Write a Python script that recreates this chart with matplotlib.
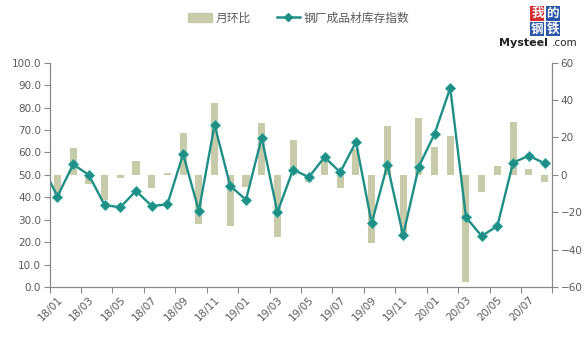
import numpy as np
import matplotlib.pyplot as plt
from matplotlib.lines import Line2D
from matplotlib.patches import Patch

plt.rcParams['font.family'] = ['DejaVu Sans', 'Noto Sans CJK SC']

# 月份 18/01 - 20/08
meses = [f'{a}/{m:02d}' for a in (18, 19, 20) for m in range(1, 13)][:32]

# 钢厂成品材库存指数 (eixo esquerdo); primeiro valor = 17/12, fica cortado
indice_anterior = 54.7
indice = [40.4, 54.7, 50.0, 36.6, 35.6, 42.9, 36.2, 36.9, 59.3, 34.0, 72.3, 45.1,
          38.9, 66.6, 33.4, 52.4, 49.0, 57.9, 51.2, 64.7, 28.5, 54.5, 23.1, 53.7,
          68.2, 88.7, 31.2, 22.8, 27.3, 55.5, 58.5, 55.2]

# 月环比 (eixo direito)
mom = [-12.0, 14.2, -5.0, -13.4, -1.4, 7.5, -7.1, 1.1, 22.4, -26.0, 38.5, -27.1,
       -6.2, 27.8, -32.9, 18.7, -3.6, 7.8, -6.8, 14.0, -36.1, 26.2, -32.0, 30.4,
       14.8, 20.8, -57.3, -8.9, 4.8, 28.3, 3.2, -3.6]

cor_barra = '#c8cbaa'
cor_linha = '#1f8f86'
cinza = '#595959'

x = np.arange(len(meses))

fig = plt.figure(figsize=(5.86, 3.4), dpi=100)
ax = fig.add_axes([0.0846, 0.155, 0.858, 0.661])
ax2 = ax.twinx()

# barras no eixo direito
ax2.bar(x, mom, width=0.45, color=cor_barra, zorder=1)
ax2.set_ylim(-60, 60)
ax2.set_yticks(np.arange(-60, 61, 20))

# linha no eixo esquerdo (desenhada por cima das barras)
ax.set_zorder(ax2.get_zorder() + 1)
ax.patch.set_visible(False)
xl = np.concatenate([[-1], x])
yl = [indice_anterior] + indice
ax.plot(xl, yl, color=cor_linha, lw=1.7, marker='D', markersize=4.6,
        markeredgecolor='#2aa59b', markeredgewidth=0.6, clip_on=True)
ax.set_ylim(0, 100)
ax.set_yticks(np.arange(0, 101, 10))
ax.set_yticklabels([f'{v:.1f}' for v in np.arange(0, 101, 10)])
ax.set_xlim(-0.5, len(meses) - 0.5)

# marcas entre categorias, rótulos a cada 2 meses
ax.set_xticks(np.arange(-0.5, len(meses), 2))
ax.set_xticklabels([])
ax.set_xticks(x[::2], minor=True)
ax.set_xticklabels(meses[::2], minor=True, rotation=45, ha='right',
                   rotation_mode='anchor', fontsize=7.5, color=cinza)
ax.tick_params(axis='x', which='minor', length=0, pad=5)
ax.tick_params(axis='x', which='major', length=4, color='#888888')

for a in (ax, ax2):
    for s in a.spines.values():
        s.set_color('#888888')
    a.spines['top'].set_visible(False)
ax.tick_params(axis='y', labelsize=7.5, colors=cinza, length=4, pad=2)
ax.tick_params(axis='y', color='#888888')
ax2.tick_params(axis='y', labelsize=7.5, colors=cinza, length=4, pad=2)
ax2.tick_params(axis='y', color='#888888')
ax2.set_xlim(-0.5, len(meses) - 0.5)

# legenda
handles = [Patch(color=cor_barra),
           Line2D([], [], color=cor_linha, lw=1.8, marker='D', markersize=4)]
fig.legend(handles, ['月环比', '钢厂成品材库存指数'], loc='center', ncol=2,
           bbox_to_anchor=(0.51, 0.947), frameon=False,
           handlelength=2.0, columnspacing=2.2, handletextpad=0.3,
           prop={'family': ['Noto Sans CJK SC'], 'size': 8.5},
           labelcolor=cinza)

# logo
caixa = dict(boxstyle='square,pad=0.06', lw=0)
for txt, px, py, cor in [('我', 0.917, 0.960, '#d42a2f'), ('的', 0.943, 0.960, '#2b56a8'),
                         ('钢', 0.917, 0.914, '#2b56a8'), ('铁', 0.943, 0.914, '#2b56a8')]:
    fig.text(px, py, txt, color='white', fontsize=9, ha='center', va='center',
             family='Noto Sans CJK SC', weight='bold', bbox=dict(caixa, fc=cor))
fig.text(0.852, 0.873, 'Mysteel', fontsize=8, weight='bold', color='#222222',
         ha='left', va='center')
fig.text(0.985, 0.873, '.com', fontsize=7.5, color='#222222', ha='right', va='center')

plt.savefig('out.png', dpi=100)
